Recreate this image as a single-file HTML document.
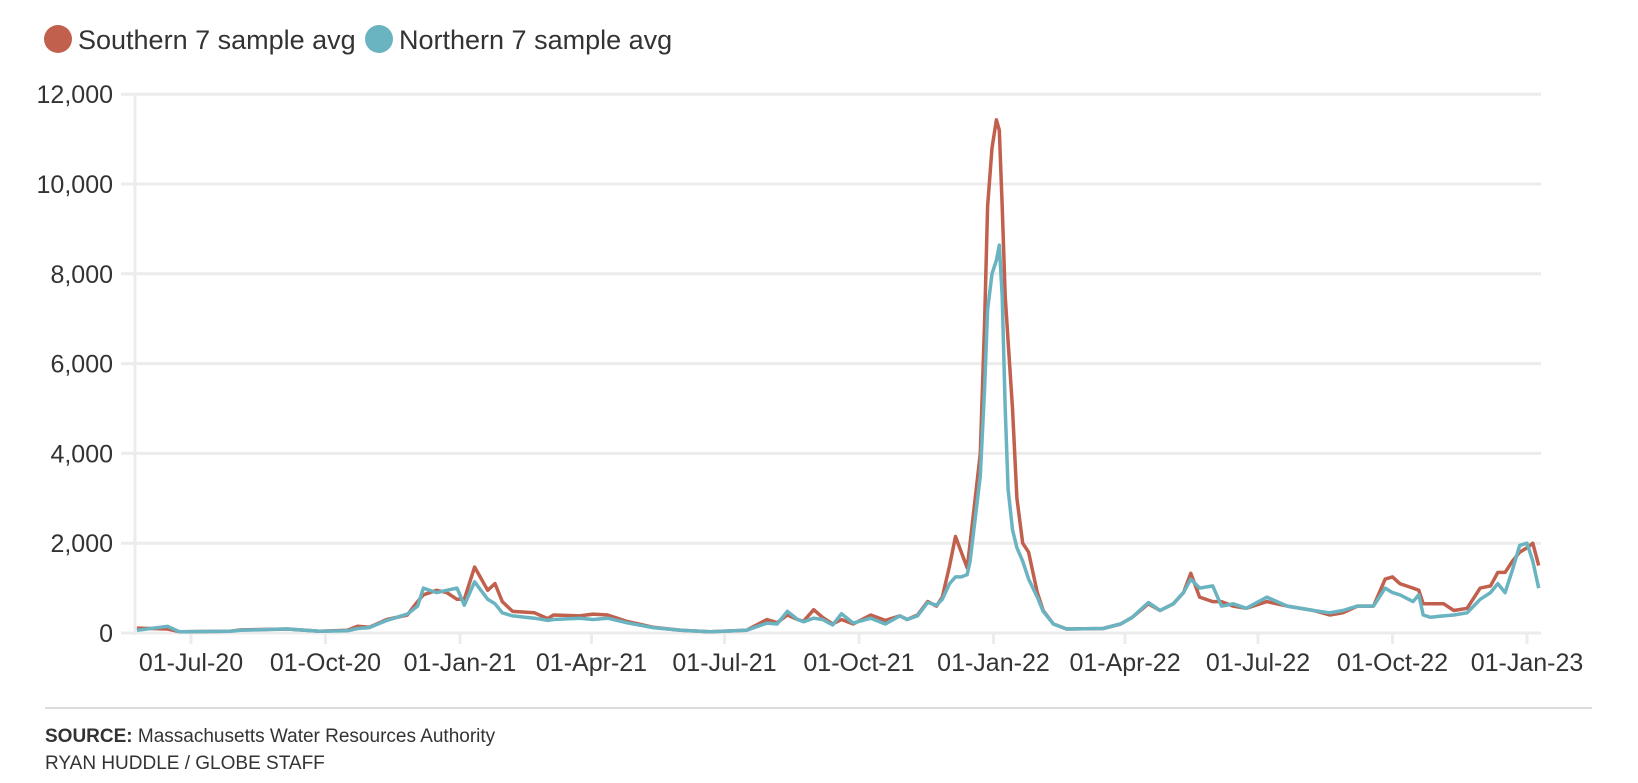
<!DOCTYPE html>
<html><head><meta charset="utf-8"><style>
html,body{margin:0;padding:0;background:#fff;}
body{width:1638px;height:778px;overflow:hidden;font-family:"Liberation Sans Narrow","Liberation Sans",sans-serif;color:#333;}
svg text{font-family:"Liberation Sans Narrow","Liberation Sans",sans-serif;}
</style></head><body>
<svg id="chart" width="1638" height="778" xmlns="http://www.w3.org/2000/svg">
  <g>
    <g>
      <circle cx="58" cy="39" r="14" fill="#c0604d"/>
      <text x="78" y="49" font-size="27" fill="#333">Southern 7 sample avg</text>
    </g>
    <g>
      <circle cx="379" cy="39" r="14" fill="#6ab3c1"/>
      <text x="399" y="49" font-size="27" fill="#333">Northern 7 sample avg</text>
    </g>
  </g>
  <g id="grid"></g>
  <g id="yaxis"></g>
  <g id="xaxis"></g>
  <g id="series"></g>
  <line x1="45" y1="708" x2="1592" y2="708" stroke="#dcdcdc" stroke-width="2"/>
  <text x="45" y="742" font-size="19" fill="#333"><tspan font-weight="bold">SOURCE:</tspan> Massachusetts Water Resources Authority</text>
  <text x="45" y="769" font-size="19" fill="#333">RYAN HUDDLE / GLOBE STAFF</text>
</svg>
<script>
// days since 01-Jul-2020
const days = [-37,-16,-8,27,34,66,88,107,114,122,134,148,155,159,168,175,182,187,194,203,208,213,220,235,244,248,266,275,285,298,316,335,355,380,394,401,408,415,419,426,432,439,445,453,465,475,485,490,497,504,510,514,519,523,527,531,533,540,543,545,548,551,553,555,557,559,562,565,569,573,579,583,590,599,624,636,644,655,663,672,679,684,690,699,705,713,722,736,750,768,779,788,798,809,817,822,827,836,840,843,848,857,864,873,882,889,894,899,904,909,914,918,922];
const southern = [110,90,30,40,70,90,40,60,150,130,300,400,700,850,950,900,750,750,1470,950,1100,700,480,450,320,400,380,420,400,260,130,60,30,60,300,230,400,300,260,520,350,200,300,200,400,280,380,300,400,700,600,800,1500,2150,1800,1450,2000,4000,7000,9500,10800,11430,11200,9500,7500,6500,5000,3000,2000,1800,900,500,200,90,100,200,350,650,500,650,900,1330,800,700,700,600,550,700,600,500,400,450,600,600,1200,1250,1100,1000,950,650,650,650,500,550,1000,1050,1350,1350,1600,1800,1900,2000,1500];
const northern = [60,150,30,40,60,90,40,50,100,120,280,420,600,1000,900,950,1000,620,1140,750,650,450,380,330,280,300,330,300,330,230,120,60,30,60,220,200,480,300,250,330,300,180,430,220,330,200,380,300,380,680,620,750,1100,1250,1250,1300,1600,3500,5500,7200,8000,8300,8640,7500,5000,3200,2300,1900,1600,1200,800,480,200,90,100,200,350,680,500,650,900,1200,1000,1050,600,650,550,800,600,500,450,500,600,600,1000,900,850,700,850,400,350,380,400,450,750,900,1100,900,1400,1950,2000,1600,1000];
const yTicks = [0,2000,4000,6000,8000,10000,12000];
const xTickDays = [0,92,184,274,365,457,549,639,730,822,914];
const xTickLabels = ["01-Jul-20","01-Oct-20","01-Jan-21","01-Apr-21","01-Jul-21","01-Oct-21","01-Jan-22","01-Apr-22","01-Jul-22","01-Oct-22","01-Jan-23"];

const NS = "http://www.w3.org/2000/svg";
const X0 = 191, PXD = 1.4617, Y0 = 633, PXV = 0.0449;
function xs(d){ return X0 + d*PXD; }
function ys(v){ return Y0 - v*PXV; }
function mk(tag, attrs, parent){ const e=document.createElementNS(NS,tag); for(const k in attrs) e.setAttribute(k,attrs[k]); parent.appendChild(e); return e; }

const grid=document.getElementById('grid'), ya=document.getElementById('yaxis'), xa=document.getElementById('xaxis'), ser=document.getElementById('series');
yTicks.forEach(v=>{
  const l=mk('line',{x1:121,x2:1541,y1:ys(v),y2:ys(v),stroke:'#ececec','stroke-width':3},grid);
  
  
  const t=mk('text',{x:113,y:ys(v)+9,'text-anchor':'end','font-size':25,fill:'#333'},ya);
  t.textContent=v.toLocaleString('en-US');
  
  
});
const ax=mk('line',{x1:135,x2:135,y1:ys(12000),y2:ys(0)+2,stroke:'#ececec','stroke-width':3},grid);


xTickDays.forEach((d,i)=>{
  const tk=mk('line',{x1:xs(d),x2:xs(d),y1:ys(0),y2:ys(0)+11,stroke:'#ececec','stroke-width':3},xa);
  
  
  const t=mk('text',{x:xs(d),y:ys(0)+38,'text-anchor':'middle','font-size':25,fill:'#333'},xa);
  t.textContent=xTickLabels[i];
  
  
});
function path(vals){ return vals.map((v,i)=>(i?'L':'M')+xs(days[i]).toFixed(1)+','+ys(v).toFixed(1)).join(''); }
const ps=mk('path',{d:path(southern),fill:'none',stroke:'#c0604d','stroke-width':3.5,'stroke-linejoin':'round'},ser);


const pn=mk('path',{d:path(northern),fill:'none',stroke:'#6ab3c1','stroke-width':3.5,'stroke-linejoin':'round'},ser);


</script>
</body></html>
